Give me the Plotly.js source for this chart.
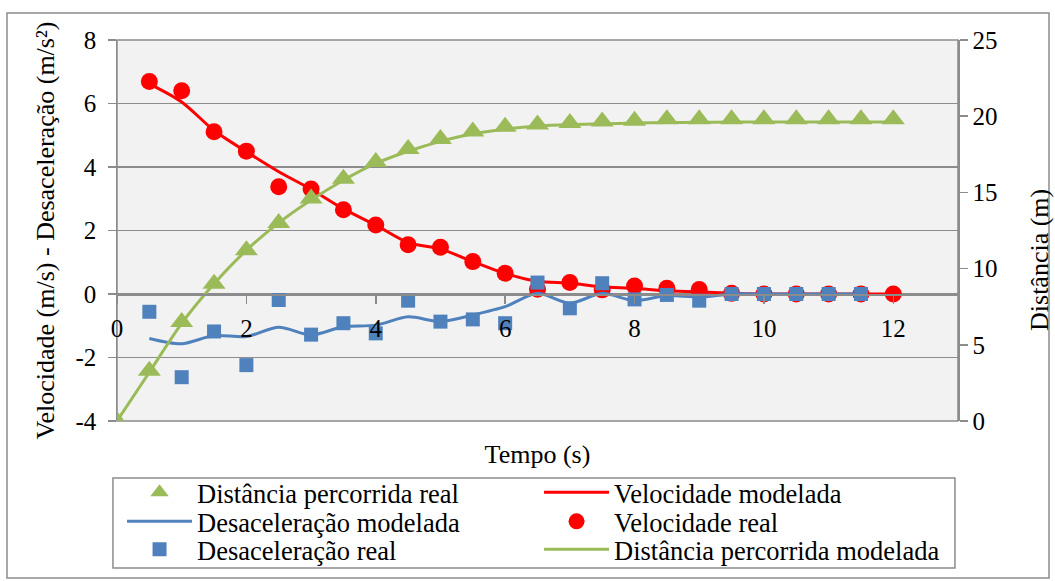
<!DOCTYPE html>
<html>
<head>
<meta charset="utf-8">
<script src="https://cdn.plot.ly/plotly-3.0.1.min.js"></script>
<style>
  html, body { margin: 0; padding: 0; background: #ffffff; }
  #chart { width: 1055px; height: 581px; }
</style>
</head>
<body>
<div id="chart"></div>
<script>
// Time stamps (s)
const tempoDistancia = [0, 0.5, 1, 1.5, 2, 2.5, 3, 3.5, 4, 4.5, 5, 5.5, 6, 6.5, 7, 7.5, 8, 8.5, 9, 9.5, 10, 10.5, 11, 11.5, 12];
const tempoVelocidade = [0.5, 1, 1.5, 2, 2.5, 3, 3.5, 4, 4.5, 5, 5.5, 6, 6.5, 7, 7.5, 8, 8.5, 9, 9.5, 10, 10.5, 11, 11.5, 12];
const tempoDesaceleracao = [0.5, 1, 1.5, 2, 2.5, 3, 3.5, 4, 4.5, 5, 5.5, 6, 6.5, 7, 7.5, 8, 8.5, 9, 9.5, 10, 10.5, 11, 11.5];

// Distance travelled (m), right axis
const distanciaReal = [0, 3.3, 6.5, 9.0, 11.2, 13.0, 14.6, 15.9, 17.0, 17.85, 18.5, 19.0, 19.3, 19.45, 19.55, 19.65, 19.7, 19.8, 19.8, 19.8, 19.8, 19.8, 19.8, 19.8, 19.8];
const distanciaModelada = [0, 3.2, 6.4, 9.0, 11.2, 13.0, 14.5, 15.8, 16.9, 17.7, 18.35, 18.85, 19.15, 19.35, 19.45, 19.5, 19.55, 19.58, 19.6, 19.62, 19.62, 19.62, 19.62, 19.62, 19.62];

// Speed (m/s), left axis
const velocidadeReal = [6.69, 6.40, 5.11, 4.50, 3.38, 3.31, 2.65, 2.17, 1.55, 1.47, 1.02, 0.65, 0.15, 0.36, 0.13, 0.25, 0.18, 0.14, 0.02, 0, 0, 0, 0, 0];
const velocidadeModelada = [6.62, 6.05, 5.15, 4.48, 3.85, 3.30, 2.68, 2.17, 1.62, 1.42, 1.02, 0.65, 0.40, 0.34, 0.23, 0.18, 0.10, 0.07, 0.02, 0, 0, 0, 0, 0];

// Deceleration (m/s²), left axis
const desaceleracaoReal = [-0.56, -2.62, -1.18, -2.24, -0.19, -1.28, -0.92, -1.24, -0.21, -0.87, -0.80, -0.92, 0.36, -0.45, 0.34, -0.17, -0.03, -0.21, 0, 0, 0, 0, 0];
const desaceleracaoModelada = [-1.40, -1.57, -1.31, -1.34, -1.05, -1.29, -1.03, -0.98, -0.72, -0.87, -0.66, -0.40, 0.02, -0.29, 0.02, -0.21, -0.05, -0.10, 0, 0, 0, 0, 0];

// Axis tick labels
const ticksTempo = [0, 2, 4, 6, 8, 10, 12];
const ticksEsquerda = [-4, -2, 0, 2, 4, 6, 8];
const rotulosEsquerda = ['-4', '-2', '0', '2', '4', '6', '8'];
const ticksDireita = [0, 5, 10, 15, 20, 25];

const VERMELHO = '#ff0000';
const AZUL = '#4f81bd';
const VERDE = '#9bbb59';
const CINZA = '#8c8c8c';
const FONTE = 'Liberation Serif';
const NBSP = '\u00a0';

// Legend rows: each row is its own two-entry legend so the row spacing stays tight
const traces = [
  {
    name: 'Velocidade modelada', x: tempoVelocidade, y: velocidadeModelada,
    mode: 'lines', line: { color: VERMELHO, width: 3, shape: 'spline', smoothing: 0.8 },
    legend: 'legend', legendrank: 2, yaxis: 'y'
  },
  {
    name: 'Velocidade real', x: tempoVelocidade, y: velocidadeReal,
    mode: 'markers', marker: { symbol: 'circle', size: 17, color: VERMELHO },
    legend: 'legend2', legendrank: 2, yaxis: 'y'
  },
  {
    name: 'Desaceleração modelada', x: tempoDesaceleracao, y: desaceleracaoModelada,
    mode: 'lines', line: { color: AZUL, width: 3, shape: 'spline', smoothing: 0.8 },
    legend: 'legend2', legendrank: 1, yaxis: 'y'
  },
  {
    name: 'Desaceleração real', x: tempoDesaceleracao, y: desaceleracaoReal,
    mode: 'markers', marker: { symbol: 'square', size: 14, color: AZUL },
    legend: 'legend3', legendrank: 1, yaxis: 'y'
  },
  {
    name: 'Distância percorrida modelada', x: tempoDistancia, y: distanciaModelada,
    mode: 'lines', line: { color: VERDE, width: 3, shape: 'spline', smoothing: 0.8 },
    legend: 'legend3', legendrank: 2, yaxis: 'y2'
  },
  {
    name: 'Distância percorrida real', x: tempoDistancia, y: distanciaReal,
    mode: 'markers', marker: { symbol: 'triangle-up', size: 20, color: VERDE },
    legend: 'legend', legendrank: 1, yaxis: 'y2'
  }
];

function linhaLegenda(yTopo) {
  return {
    orientation: 'h',
    traceorder: 'normal',
    x: 0.006,
    xanchor: 'left',
    y: yTopo,
    yanchor: 'top',
    itemwidth: 65,
    entrywidth: 337,
    entrywidthmode: 'pixels',
    bgcolor: 'rgba(0,0,0,0)',
    borderwidth: 0,
    font: { family: FONTE, size: 26.5 }
  };
}

const layout = {
  width: 1055,
  height: 581,
  margin: { l: 117, r: 97, t: 40, b: 160, autoexpand: false },
  paper_bgcolor: '#ffffff',
  plot_bgcolor: '#f2f2f2',
  font: { family: FONTE, size: 25, color: '#000000' },
  showlegend: true,
  xaxis: {
    range: [0, 13],
    tickvals: ticksTempo,
    anchor: 'free',
    position: 1 / 3,
    showgrid: false,
    zeroline: false,
    showline: true,
    linecolor: CINZA,
    linewidth: 1.5,
    ticks: 'outside',
    ticklen: 8,
    tickwidth: 1.5,
    tickcolor: CINZA,
    ticklabelstandoff: 3,
    tickfont: { family: FONTE, size: 25 },
    title: { text: 'Tempo (s)', font: { family: FONTE, size: 26 }, standoff: 104 },
    automargin: false
  },
  yaxis: {
    range: [-4, 8],
    tickvals: ticksEsquerda,
    ticktext: rotulosEsquerda.map(r => r + NBSP),
    showgrid: true,
    gridcolor: CINZA,
    gridwidth: 1.5,
    zeroline: false,
    showline: true,
    linecolor: CINZA,
    linewidth: 1.5,
    ticks: 'outside',
    ticklen: 8,
    tickwidth: 1.5,
    tickcolor: CINZA,
    tickfont: { family: FONTE, size: 25 },
    title: { text: 'Velocidade (m/s) - Desaceleração (m/s²)', font: { family: FONTE, size: 26 }, standoff: 13 },
    automargin: false
  },
  yaxis2: {
    range: [0, 25],
    tickvals: ticksDireita,
    tickprefix: NBSP,
    overlaying: 'y',
    side: 'right',
    showgrid: false,
    zeroline: false,
    showline: true,
    linecolor: CINZA,
    linewidth: 1.5,
    ticks: 'outside',
    ticklen: 8,
    tickwidth: 1.5,
    tickcolor: CINZA,
    tickfont: { family: FONTE, size: 25 },
    automargin: false
  },
  annotations: [
    // right axis title
    { text: 'Distância (m)', xref: 'paper', yref: 'paper', x: 1.0975, y: 0.4226,
      xanchor: 'center', yanchor: 'middle', textangle: -90, showarrow: false,
      font: { family: FONTE, size: 26, color: '#000000' } }
  ],
  legend: linhaLegenda(-0.1250),
  legend2: linhaLegenda(-0.2011),
  legend3: linhaLegenda(-0.2746),
  shapes: [
    // chart area frame
    { type: 'rect', xref: 'paper', yref: 'paper', x0: -0.1308, x1: 1.1082, y0: -0.412, y1: 1.0709,
      line: { color: CINZA, width: 1.5 }, layer: 'below' },
    // plot area frame
    { type: 'rect', xref: 'paper', yref: 'paper', x0: 0, x1: 1, y0: 0, y1: 1,
      line: { color: CINZA, width: 1.5 }, layer: 'below' },
    // legend frame
    { type: 'rect', xref: 'paper', yref: 'paper', x0: -0.0048, x1: 0.9964, y0: -0.3858, y1: -0.1496,
      line: { color: CINZA, width: 1.5 }, fillcolor: '#ffffff', layer: 'below' }
  ]
};

Plotly.newPlot('chart', traces, layout, { displayModeBar: false, staticPlot: true });
</script>
</body>
</html>
